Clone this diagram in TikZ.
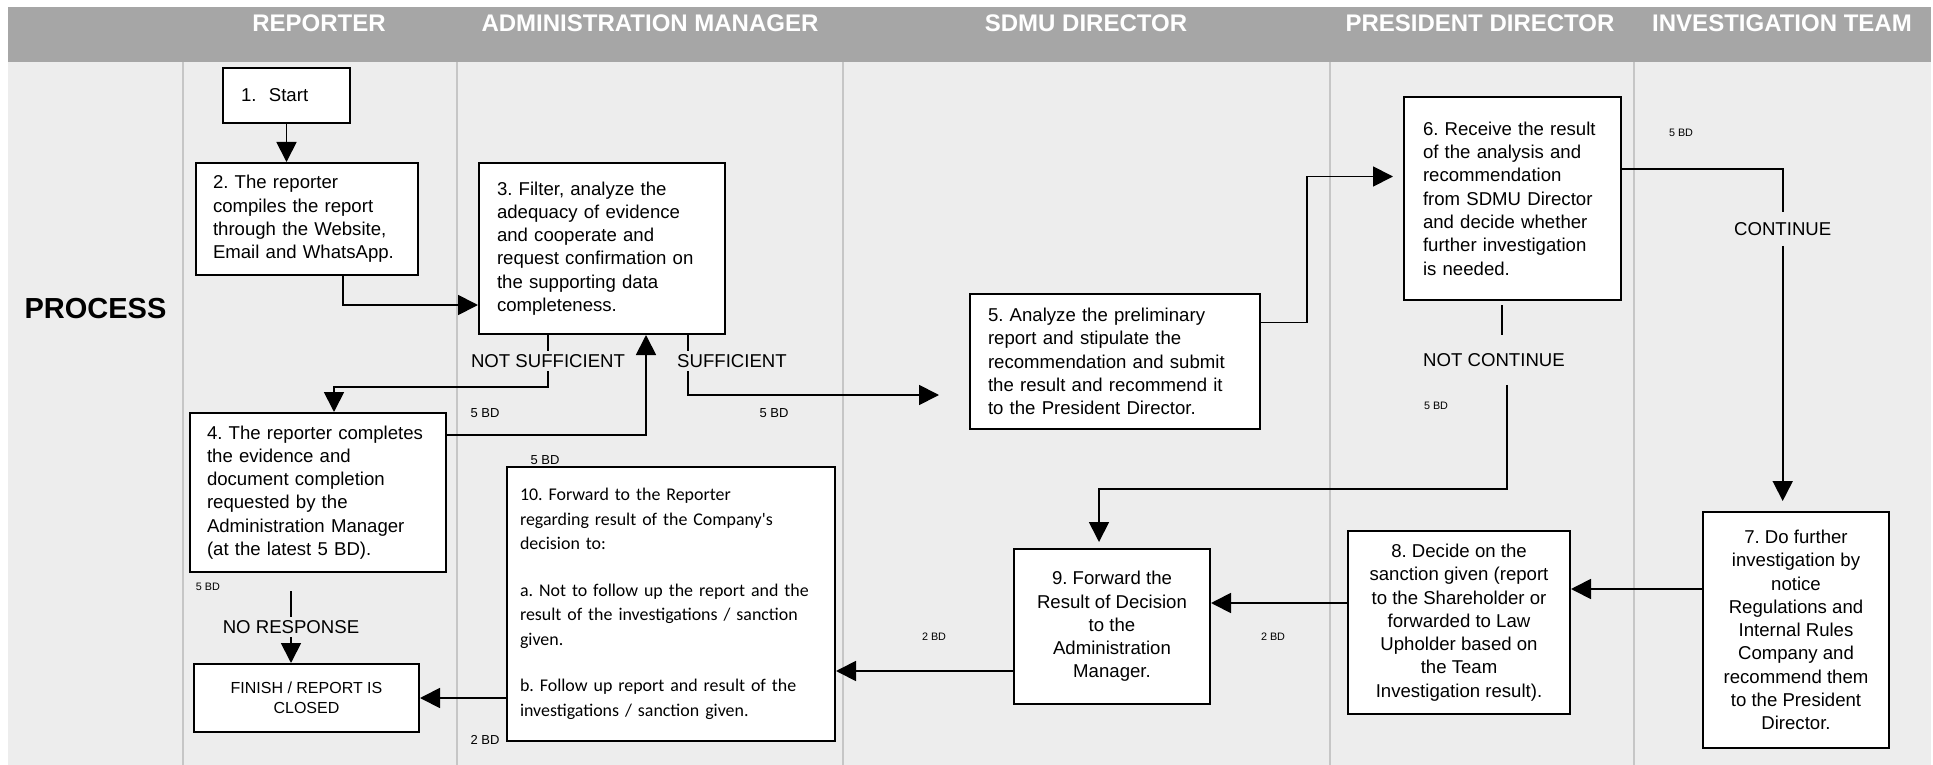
\documentclass[tikz,border=0pt]{standalone}
\usepackage{fontspec}
\setmainfont{Liberation Sans}
\newfontfamily\calibrifont{Carlito}
\usepackage{xcolor}
\usepackage{tikz}
\usetikzlibrary{arrows.meta}

\definecolor{headgray}{HTML}{A6A6A6}
\definecolor{lanebg}{HTML}{EDEDED}
\definecolor{laneline}{HTML}{C6C6C6}
\frenchspacing
\hyphenpenalty=10000
\exhyphenpenalty=10000

\begin{document}
\begin{tikzpicture}[x=1pt,y=-1pt,
  box/.style={draw=black, line width=2pt, fill=white, align=left, inner xsep=17pt, inner ysep=4pt, font=\fontsize{18.6}{23.3}\selectfont},
  cbox/.style={box, align=center, inner xsep=6pt},
  flow/.style={line width=1.8pt, -{Triangle[length=20pt,width=20pt]}},
  link/.style={line width=1.8pt},
  lbl/.style={font=\fontsize{18.6}{22}\selectfont, inner xsep=0pt},
  bd/.style={font=\fontsize{13}{15}\selectfont, inner sep=0pt},
  bdsm/.style={font=\fontsize{10.8}{13}\selectfont, inner sep=0pt},
  hdr/.style={font=\fontsize{24}{28}\selectfont\bfseries, text=white, inner sep=0pt}]

\useasboundingbox (0,0) rectangle (1933,765);
\fill[headgray] (8,7) rectangle (1931,62);
\fill[lanebg] (8,62) rectangle (1931,765);
\foreach \lx in {183,456.5,842.5,1330,1633.5}
  \draw[laneline, line width=2pt] (\lx,62) -- (\lx,765);

\node[hdr] (hrep) at (319,23.5) {REPORTER};
\node[hdr] (hadm) at (650,23.5) {ADMINISTRATION MANAGER};
\node[hdr] (hsdmu) at (1086,23.5) {SDMU DIRECTOR};
\node[hdr] (hpres) at (1480,23.5) {PRESIDENT DIRECTOR};
\node[hdr] (hinv) at (1782,23.5) {INVESTIGATION TEAM};
\node[font=\fontsize{29}{34}\selectfont\bfseries] (proc) at (95.5,309) {PROCESS};

\node[box, minimum width=127pt, minimum height=55pt, text width=91pt, inner xsep=18pt] (b1) at (286.5,95.5) {1.~~Start};
\node[box, minimum width=222pt, minimum height=112pt, text width=188pt] (b2) at (307,219)
  {2. The reporter\\compiles the report\\through the Website,\\Email and WhatsApp.};
\node[box, minimum width=246pt, minimum height=171pt, text width=210pt, inner xsep=18pt] (b3) at (602,248.5)
  {3. Filter, analyze the\\adequacy of evidence\\and cooperate and\\request confirmation on\\the supporting data\\completeness.};
\node[box, minimum width=256pt, minimum height=159pt, text width=222pt] (b4) at (318,492.5)
  {4. The reporter completes\\the evidence and\\document completion\\requested by the\\Administration Manager\\(at the latest 5 BD).};
\node[box, minimum width=290pt, minimum height=135pt, text width=254pt, inner xsep=18pt] (b5) at (1115,361.5)
  {5. Analyze the preliminary\\report and stipulate the\\recommendation and submit\\the result and recommend it\\to the President Director.};
\node[box, minimum width=217pt, minimum height=203pt, text width=179pt, inner xsep=19pt] (b6) at (1512.5,198.5)
  {6. Receive the result\\of the analysis and\\recommendation\\from SDMU Director\\and decide whether\\further investigation\\is needed.};
\node[cbox, minimum width=186pt, minimum height=236pt] (b7) at (1796,630)
  {7. Do further\\investigation by\\notice\\Regulations and\\Internal Rules\\Company and\\recommend them\\to the President\\Director.};
\node[cbox, minimum width=222pt, minimum height=183pt] (b8) at (1459,622.5)
  {8. Decide on the\\sanction given (report\\to the Shareholder or\\forwarded to Law\\Upholder based on\\the Team\\Investigation result).};
\node[cbox, minimum width=196pt, minimum height=155pt] (b9) at (1112,626.5)
  {9. Forward the\\Result of Decision\\to the\\Administration\\Manager.};
\node[box, minimum width=328pt, minimum height=274pt, text width=302pt, inner xsep=13pt, font=\calibrifont\fontsize{17.9}{24.5}\selectfont] (b10) at (671,604)
  {10. Forward to the Reporter\\regarding result of the Company{\textquotesingle}s\\decision to:\\[22pt]a. Not to follow up the report and the\\result of the investigations / sanction\\given.\\[22pt]b. Follow up report and result of the\\investigations / sanction given.};
\node[cbox, minimum width=225pt, minimum height=68pt, font=\fontsize{16}{20}\selectfont] (fin) at (306.5,698)
  {FINISH / REPORT IS\\CLOSED};

\node[lbl] (ns) at (548,361) {NOT SUFFICIENT};
\node[lbl] (sf) at (732,361) {SUFFICIENT};
\node[lbl] (nr) at (291,627) {NO RESPONSE};
\node[lbl, inner ysep=10pt] (ct) at (1782.7,229) {CONTINUE};
\node[lbl, inner ysep=18pt] (nc) at (1494,360) {NOT CONTINUE};

\node[bd] (bd1) at (485,413) {5 BD};
\node[bd] (bd2) at (774,413) {5 BD};
\node[bd] (bd3) at (545,460) {5 BD};
\node[bd] (bd4) at (485,740) {2 BD};
\node[bdsm] (bd5) at (208,587) {5 BD};
\node[bdsm] (bd6) at (1681,133) {5 BD};
\node[bdsm] (bd7) at (1436,406) {5 BD};
\node[bdsm] (bd8) at (934,637) {2 BD};
\node[bdsm] (bd9) at (1273,637) {2 BD};

\draw[flow] (b1.south) -- (b1.south |- b2.north);
\draw[flow] ([xshift=36pt]b2.south) |- ([yshift=-56.5pt]b3.west);
\draw[link] (ns.north |- b3.south) -- (ns.north);
\draw[flow] (ns.south) -- ++(0,16) -| ([xshift=16pt]b4.north);
\draw[link] ([xshift=-44pt]sf.north |- b3.south) -- ([xshift=-44pt]sf.north);
\draw[flow] ([xshift=-44pt]sf.south) |- ([xshift=-30pt,yshift=-33.5pt]b5.west);
\draw[flow] ([yshift=57.5pt]b4.east) -| ([xshift=44pt]b3.south);
\draw[link] ([yshift=-18pt]nr.north |- b4.south) -- (nr.north);
\draw[flow] (nr.south) -- (nr.south |- fin.north);
\draw[flow] (b10.west |- fin.east) -- (fin.east);
\draw[flow] ([yshift=-44.5pt]b9.west) -- ([yshift=-44.5pt]b9.west -| b10.east);
\draw[flow] ([yshift=19.5pt]b8.west) -- ([yshift=19.5pt]b8.west -| b9.east);
\draw[flow] ([yshift=41pt]b7.west) -- ([yshift=41pt]b7.west -| b8.east);
\draw[flow] ([yshift=39pt]b5.east) -- ++(46,0) |- ([xshift=-10pt,yshift=22pt]b6.west);
\draw[link] ([yshift=29.5pt]b6.east) -| (ct.north);
\draw[flow] (ct.south) -- ([yshift=10pt]ct.south |- b7.north);
\draw[link] ([xshift=8pt,yshift=-4pt]nc.north |- b6.south) -- ([xshift=8pt]nc.north);
\draw[flow] ([xshift=13pt]nc.south) -- ++(0,104) -| ([xshift=-13pt,yshift=6pt]b9.north);
\end{tikzpicture}
\end{document}
